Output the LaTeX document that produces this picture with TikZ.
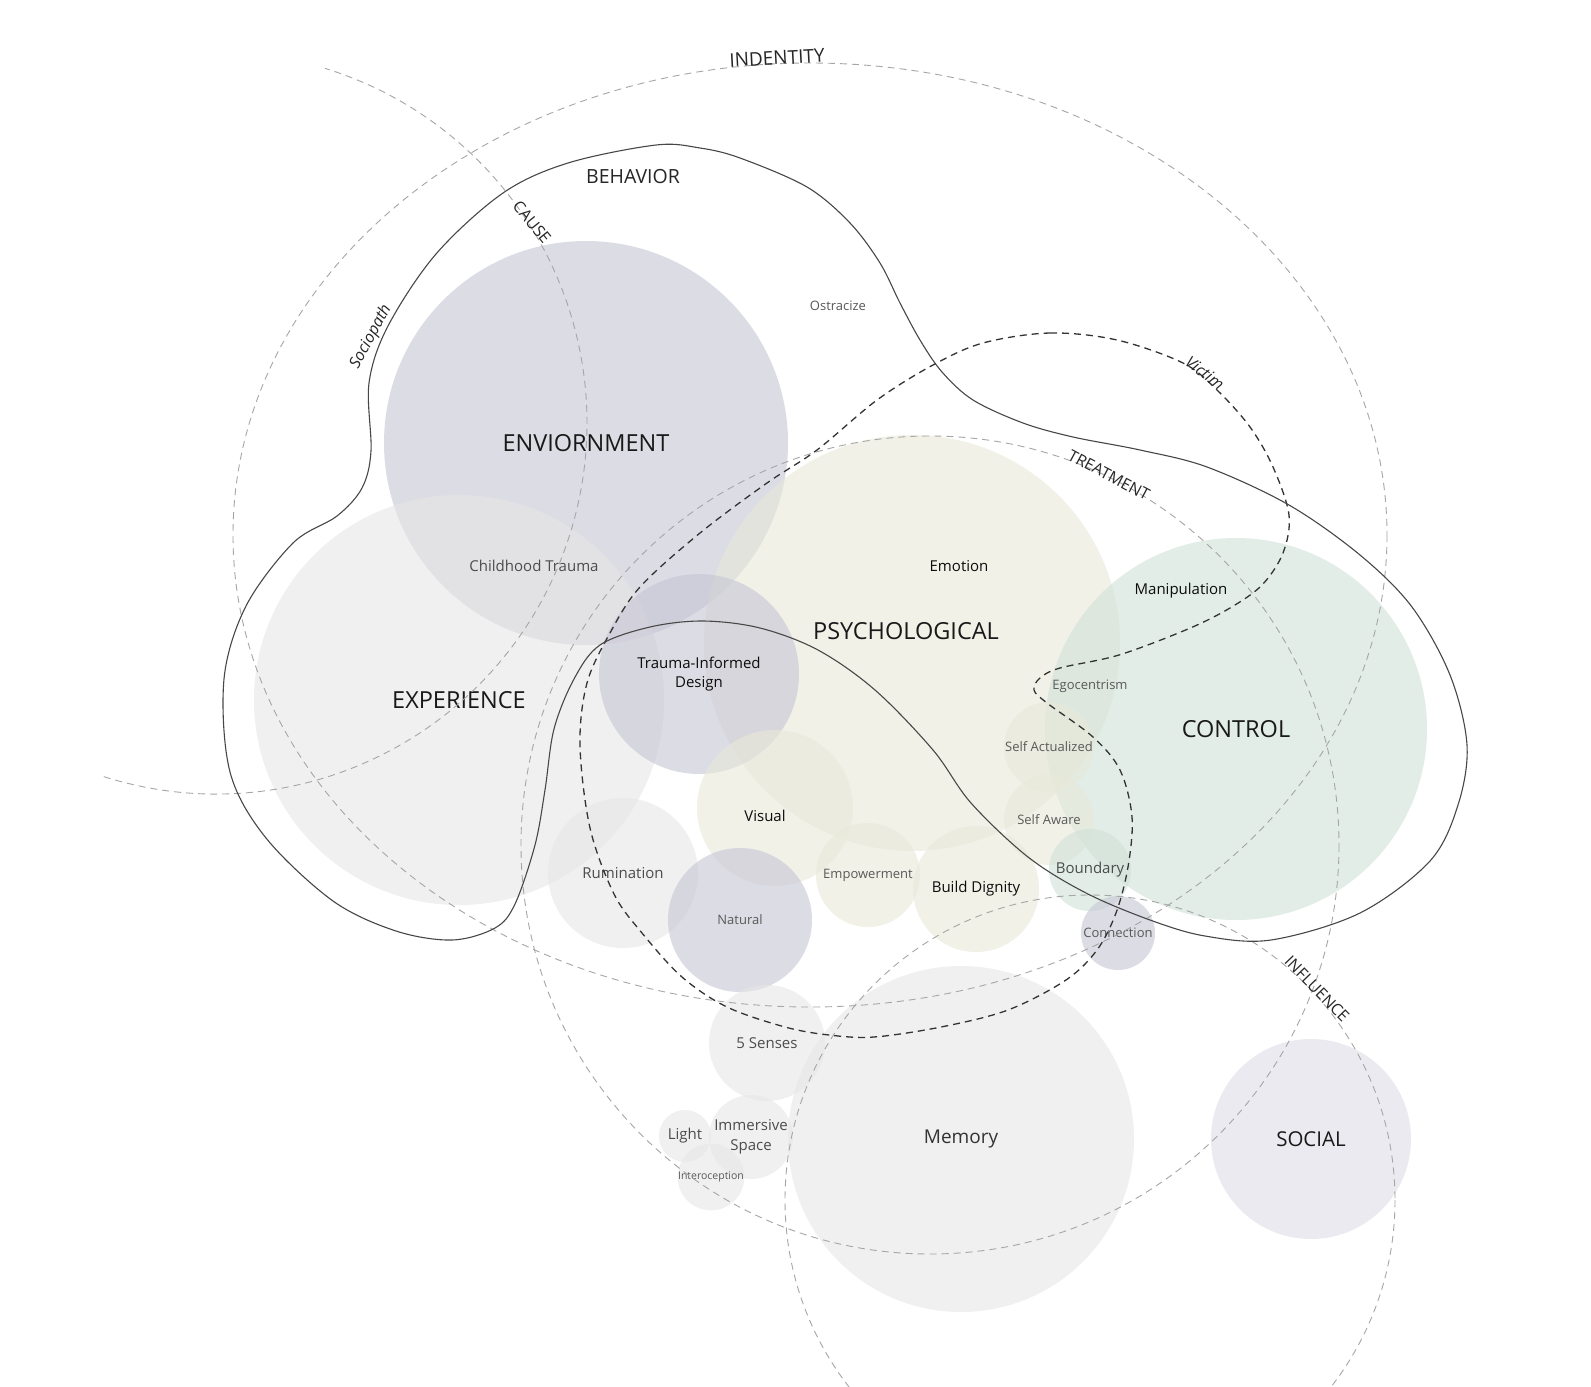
\documentclass[tikz,border=0pt]{standalone}
\usepackage{fontspec}
\setmainfont{Open Sans}
\usetikzlibrary{positioning}

\definecolor{lavfill}{RGB}{198,197,213}
\definecolor{greyfill}{RGB}{230,230,230}
\definecolor{sagefill}{RGB}{232,233,218}
\definecolor{mintfill}{RGB}{208,225,215}

\begin{document}
\begin{tikzpicture}[x=1pt,y=-1pt,
  bubble/.style={circle,inner sep=0pt,outer sep=0pt,align=center,
    fill opacity=.6,text opacity=1,minimum size=2*#1},
  lav/.style={bubble=#1,fill=lavfill},
  grey/.style={bubble=#1,fill=greyfill},
  sage/.style={bubble=#1,fill=sagefill},
  mint/.style={bubble=#1,fill=mintfill},
  bigtxt/.style={font=\fontsize{23.5}{27}\selectfont,text=black!90},
  midtxt/.style={font=\fontsize{15}{19.5}\selectfont,text=black!95},
  softtxt/.style={font=\fontsize{15}{19.5}\selectfont,text=black!70},
  smalltxt/.style={font=\fontsize{13}{15}\selectfont,text=black!65},
  ringtxt/.style={font=\fontsize{16}{18}\selectfont,text=black!85,inner sep=1pt},
  gdash/.style={draw=black!35,line width=.9pt,dash pattern=on 7pt off 5pt},
  vdash/.style={draw=black!80,line width=1.3pt,dash pattern=on 7pt off 5pt},
  outline/.style={draw=black!72,line width=1.1pt}
]
\useasboundingbox (0,0) rectangle (1591,1387);
\fill[white] (0,0) rectangle (1591,1387);
\clip (0,0) rectangle (1591,1387);

% main areas
\node[lav=202,bigtxt] (env) at (586,443) {ENVIORNMENT};
\node[grey=205,bigtxt] (exp) at (459,700) {EXPERIENCE};
\node[sage=208] (psy) at (912,643) {};
\node[mint=191,bigtxt] (ctrl) at (1236,729) {CONTROL};
\node[lav=100,midtxt] (tid) at (699,674) {Trauma-Informed\\Design};

% small bubbles
\node[sage=78] (vis) at (775,808) {};
\node[grey=75,softtxt] (rum) at (623,873) {Rumination};
\node[lav=72,smalltxt] (nat) at (740,920) {Natural};
\node[sage=52,smalltxt] (emp) at (868,875) {Empowerment};
\node[sage=63,midtxt] (dig) at (976,889) {Build Dignity};
\node[sage=45,smalltxt] (sact) at (1049,747) {Self Actualized};
\node[sage=45,smalltxt] (saw) at (1049,820) {Self Aware};
\node[mint=41,softtxt] (bnd) at (1090,870) {Boundary};
\node[lav=37,smalltxt] (conn) at (1118,933) {Connection};
\node[grey=58,softtxt] (sen) at (767,1043) {5 Senses};
\node[grey=173,font=\fontsize{19}{22}\selectfont,text=black!80] (mem) at (961,1139) {Memory};
\node[lav=100,font=\fontsize{20.5}{24}\selectfont,text=black!90,fill opacity=.35] (soc) at (1311,1139) {SOCIAL};
\node[grey=26,softtxt] (lig) at (685,1136) {Light};
\node[grey=42,softtxt] (imm) at (751,1137) {Immersive\\Space};
\node[grey=27,font=\fontsize{10.5}{12}\selectfont,text=black!65] (int) at (711,1177) {Interoception};

% labels
\node[bigtxt] (psyl) at (906,631) {PSYCHOLOGICAL};
\node[midtxt] (visl) at (765,816) {Visual};
\node[midtxt] (emo) at (959,566) {Emotion};
\node[midtxt] (man) at (1181,591) {Manipulation};
\node[smalltxt] (ego) at (1090,686) {Egocentrism};
\node[softtxt] (child) at (534,566) {Childhood Trauma};
\node[smalltxt] (ostr) at (838,306) {Ostracize};

% rings
\draw[gdash] (810,535) ellipse [x radius=577,y radius=472];
\draw[gdash] (930,845) circle [radius=409];
\draw[gdash] (1090,1200) circle [radius=305];
\draw[gdash] (216,423) ++(107.6:371) arc[start angle=107.6,end angle=-72.9,radius=371];

% victim loop
\draw[vdash] plot[smooth cycle,tension=.55] coordinates {
  (983,343) (1050,333) (1117,340) (1183,363) (1217,390) (1250,427)
  (1273,467) (1289,515) (1283,553) (1262,585) (1230,608) (1188,629)
  (1119,655) (1060,668) (1040,678) (1034,690) (1047,703) (1093,737)
  (1120,770) (1132,817) (1128,867) (1116,913) (1097,950) (1066,980)
  (1008,1010) (941,1027) (874,1037) (829,1035) (785,1027) (727,1007)
  (682,977) (642,933) (614,894) (590,828) (580,745) (587,683)
  (610,633) (640,587) (700,533) (767,483) (817,450) (877,400) (933,365)};

% behavior outline
\draw[outline] plot[smooth cycle,tension=.55] coordinates {
  (656,145) (700,148) (740,158) (807,187) (850,223) (880,263)
  (900,303) (920,340) (942,372) (973,400) (1023,423) (1073,437)
  (1140,450) (1207,467) (1289,505) (1360,555) (1412,607) (1450,675)
  (1467,745) (1458,805)
  (1430,861) (1360,913) (1271,940) (1205,936) (1150,920) (1086,893)
  (1028,857) (971,803) (933,750) (875,690) (818,650) (760,628)
  (703,621) (650,627) (600,645) (574,679) (554,729) (545,790)
  (535,845) (515,904) (495,928) (452,940) (396,931) (333,901)
  (266,838) (230,772) (224,679) (246,606) (293,543) (337,516)
  (362,488) (371,451) (369,383) (388,326) (436,254) (503,193) (568,163)};

% ring names
\node[ringtxt,font=\fontsize{19}{22}\selectfont,rotate=3] (ident) at (777,58) {INDENTITY};
\node[ringtxt,font=\fontsize{19.5}{22}\selectfont] (behav) at (633,177) {BEHAVIOR};
\node[ringtxt,rotate=-51] (cause) at (532,222) {CAUSE};
\node[ringtxt,font=\fontsize{16}{18}\itshape,rotate=62] (socio) at (371,337) {Sociopath};
\node[ringtxt,font=\fontsize{16}{18}\itshape,rotate=-37] (vict) at (1205,373) {Victim};
\node[ringtxt,rotate=-28] (treat) at (1109,475) {TREATMENT};
\node[ringtxt,rotate=-46] (infl) at (1317,989) {INFLUENCE};
\end{tikzpicture}
\end{document}
